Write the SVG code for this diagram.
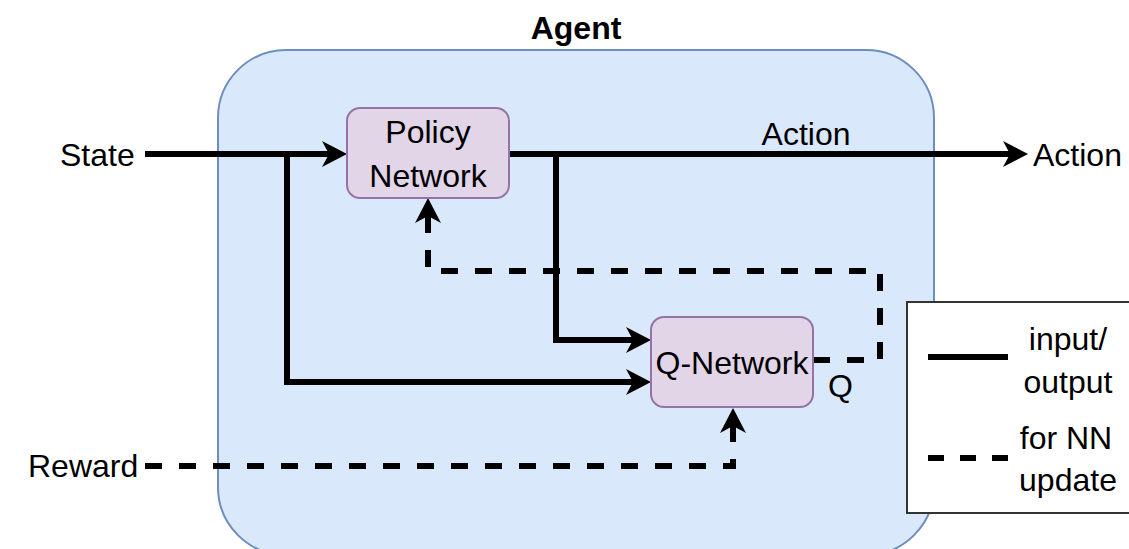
<svg xmlns="http://www.w3.org/2000/svg" width="1129" height="549" viewBox="0 0 1129 549">
<style>
text{font-family:"Liberation Sans",Arial,sans-serif;font-size:32px;fill:#000}
.c{text-anchor:middle}
.node{fill:#e1d5e7;stroke:#9673a6;stroke-width:2}
.ln{fill:none;stroke:#000;stroke-width:6}
.dash{stroke-dasharray:17 17}
</style>
<defs>
<marker id="arr" markerUnits="userSpaceOnUse" viewBox="-8 -14 28 28" markerWidth="28" markerHeight="28" refX="0" refY="0" orient="auto">
<path d="M-7,-13 L18,0 L-7,13 L0,0 Z" fill="#000"/>
</marker>
</defs>
<g id="agent">
<rect x="218" y="50" width="716" height="505" rx="68" ry="68" fill="#dae8fc" stroke="#6c8ebf" stroke-width="2"/>
<text x="576" y="39" class="c" font-weight="bold">Agent</text>
</g>
<g id="connectors">
<path class="ln" d="M145,154 H329" marker-end="url(#arr)"/>
<path class="ln" d="M287,154 V382 H633" marker-end="url(#arr)"/>
<path class="ln" d="M509,154 H1010" marker-end="url(#arr)"/>
<path class="ln" d="M556,154 V340 H633" marker-end="url(#arr)"/>
<path class="ln dash" d="M813,360 H880 V271 H428 V216" marker-end="url(#arr)"/>
<path class="ln dash" d="M145,466 H733 V426" marker-end="url(#arr)"/>
</g>
<g id="policy">
<rect class="node" x="347" y="108" width="162" height="90" rx="13"/>
<text x="428" y="143" class="c">Policy</text>
<text x="428" y="187" class="c">Network</text>
</g>
<g id="qnet">
<rect class="node" x="651" y="317" width="162" height="90" rx="13"/>
<text x="732" y="374" class="c">Q-Network</text>
</g>
<g id="labels">
<text x="60" y="166">State</text>
<text x="28" y="477">Reward</text>
<text x="1033" y="166">Action</text>
<text x="806" y="145" class="c">Action</text>
<text x="828" y="397">Q</text>
</g>
<g id="legend">
<rect x="907" y="302" width="240" height="211" fill="#fff" stroke="#333" stroke-width="2"/>
<path class="ln" d="M928,357 H1008"/>
<path class="ln" d="M928,458 H1008" stroke-dasharray="16 16"/>
<text x="1068" y="350" class="c">input/</text>
<text x="1068" y="393" class="c">output</text>
<text x="1066" y="449" class="c">for NN</text>
<text x="1068" y="491" class="c">update</text>
</g>
</svg>
